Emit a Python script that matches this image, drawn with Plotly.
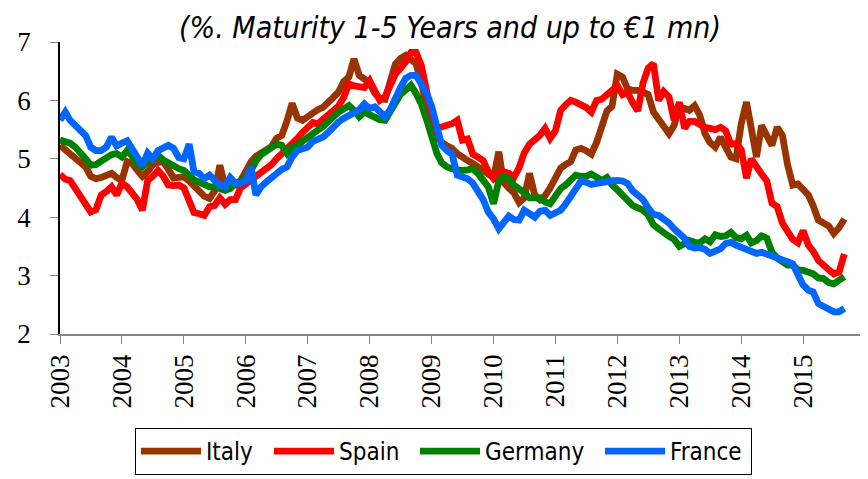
import pandas as pd
import plotly.graph_objects as go

# Monthly data, Jan 2003 .. Sep 2015
months = pd.date_range("2003-01-01", periods=153, freq="MS")

italy = [5.23, 5.15, 5.09, 5.02, 4.95, 4.86, 4.70, 4.66, 4.68, 4.72, 4.75, 4.68,
         4.63, 4.95, 4.92, 4.80, 4.70, 4.78, 4.90, 4.94, 4.95, 4.82, 4.67, 4.68,
         4.69, 4.62, 4.53, 4.46, 4.36, 4.32, 4.45, 4.89, 4.52, 4.55, 4.55, 4.62,
         4.80, 4.95, 5.04, 5.10, 5.14, 5.21, 5.35, 5.40, 5.65, 5.95, 5.70, 5.66,
         5.72, 5.80, 5.84, 5.88, 5.95, 6.05, 6.14, 6.32, 6.40, 6.71, 6.43, 6.37,
         6.30, 6.12, 6.03, 6.02, 6.35, 6.62, 6.72, 6.77, 6.70, 6.63, 6.30, 5.90,
         5.55, 5.38, 5.28, 5.22, 5.18, 5.09, 5.02, 4.97, 4.92, 4.86, 4.80, 4.72,
         4.68, 5.12, 4.60, 4.50, 4.42, 4.25, 4.33, 4.75, 4.38, 4.30, 4.37, 4.50,
         4.65, 4.84, 4.90, 4.95, 5.15, 5.18, 5.14, 5.08, 5.28, 5.55, 5.82, 5.90,
         6.45, 6.40, 6.20, 6.17, 6.17, 6.14, 6.10, 5.80, 5.68, 5.54, 5.43, 5.57,
         5.89, 5.86, 5.83, 5.91, 5.75, 5.43, 5.28, 5.20, 5.37, 5.20, 5.03, 5.00,
         5.60, 5.97, 5.50, 5.03, 5.57, 5.37, 5.23, 5.54, 5.40, 4.90, 4.55, 4.57,
         4.47, 4.38, 4.20, 3.95, 3.90, 3.85, 3.72, 3.82, 3.97]

spain = [4.73, 4.65, 4.63, 4.50, 4.35, 4.20, 4.09, 4.13, 4.38, 4.44, 4.52, 4.38,
         4.58, 4.52, 4.40, 4.30, 4.12, 4.63, 4.70, 4.80, 4.70, 4.55, 4.54, 4.55,
         4.50, 4.30, 4.08, 4.06, 4.03, 4.18, 4.20, 4.33, 4.22, 4.30, 4.30, 4.50,
         4.57, 4.62, 4.68, 4.75, 4.83, 4.90, 5.00, 5.08, 5.18, 5.26, 5.35, 5.45,
         5.52, 5.62, 5.60, 5.68, 5.76, 5.84, 5.90, 6.05, 6.28, 6.25, 6.22, 6.22,
         6.34, 6.14, 6.00, 6.06, 6.25, 6.45, 6.55, 6.66, 6.82, 6.82, 6.60, 6.10,
         5.75, 5.52, 5.54, 5.56, 5.60, 5.66, 5.32, 5.34, 5.08, 5.03, 4.97, 4.78,
         4.66, 4.75, 4.78, 4.75, 4.68, 4.85, 5.10, 5.25, 5.33, 5.40, 5.52, 5.35,
         5.48, 5.83, 5.92, 6.00, 5.97, 5.93, 5.88, 5.80, 6.00, 6.02, 6.10, 6.18,
         6.25, 6.10, 6.14, 5.96, 5.82, 6.30, 6.55, 6.63, 6.00, 6.15, 6.06, 5.66,
         5.97, 5.52, 5.64, 5.64, 5.58, 5.54, 5.52, 5.50, 5.54, 5.48, 5.25, 5.26,
         5.16, 4.67, 5.00, 4.84, 4.74, 4.62, 4.24, 4.18, 3.90, 3.76, 3.62, 3.56,
         3.77, 3.52, 3.42, 3.26, 3.17, 3.10, 3.03, 3.06, 3.37]

germany = [5.32, 5.30, 5.27, 5.20, 5.12, 5.00, 4.89, 4.90, 4.96, 5.03, 5.07, 5.09,
           5.03, 5.14, 5.05, 4.90, 4.86, 4.95, 5.02, 5.06, 4.98, 4.92, 4.88, 4.83,
           4.80, 4.72, 4.64, 4.60, 4.55, 4.52, 4.52, 4.50, 4.46, 4.49, 4.58, 4.62,
           4.68, 4.80, 4.96, 5.07, 5.13, 5.17, 5.25, 5.23, 5.09, 5.20, 5.23, 5.30,
           5.37, 5.46, 5.49, 5.55, 5.64, 5.72, 5.80, 5.85, 5.91, 5.83, 5.72, 5.80,
           5.75, 5.70, 5.67, 5.66, 5.80, 5.97, 6.10, 6.18, 6.26, 6.12, 5.94, 5.68,
           5.37, 5.09, 4.93, 4.86, 4.83, 4.80, 4.80, 4.81, 4.83, 4.75, 4.63, 4.52,
           4.23, 4.62, 4.70, 4.66, 4.55, 4.50, 4.42, 4.33, 4.34, 4.33, 4.26, 4.23,
           4.36, 4.49, 4.55, 4.63, 4.72, 4.70, 4.70, 4.74, 4.67, 4.63, 4.68, 4.55,
           4.47, 4.38, 4.29, 4.20, 4.16, 4.12, 4.04, 3.87, 3.80, 3.72, 3.67, 3.62,
           3.50, 3.55, 3.60, 3.57, 3.56, 3.63, 3.58, 3.70, 3.67, 3.68, 3.74, 3.65,
           3.63, 3.69, 3.56, 3.60, 3.68, 3.64, 3.40, 3.30, 3.24, 3.18, 3.18, 3.10,
           3.09, 3.07, 3.03, 2.96, 2.95, 2.88, 2.86, 2.92, 2.98]

france = [5.66, 5.80, 5.66, 5.57, 5.52, 5.40, 5.20, 5.14, 5.14, 5.20, 5.37, 5.22,
          5.27, 5.31, 5.17, 5.03, 4.89, 5.10, 5.00, 5.14, 5.20, 5.23, 5.18, 5.02,
          5.00, 5.25, 4.78, 4.75, 4.66, 4.72, 4.63, 4.55, 4.52, 4.68, 4.58, 4.58,
          4.62, 4.86, 4.38, 4.52, 4.60, 4.68, 4.76, 4.82, 4.86, 5.03, 5.14, 5.16,
          5.20, 5.30, 5.33, 5.37, 5.45, 5.55, 5.63, 5.69, 5.73, 5.78, 5.84, 5.94,
          5.86, 5.89, 5.80, 5.72, 5.84, 6.05, 6.22, 6.38, 6.43, 6.43, 6.30, 6.13,
          5.90, 5.55, 5.23, 5.14, 5.08, 4.72, 4.69, 4.66, 4.58, 4.45, 4.30, 4.09,
          3.97, 3.80, 3.90, 4.02, 3.96, 3.95, 4.12, 4.06, 4.00, 4.10, 4.12, 4.03,
          4.06, 4.12, 4.22, 4.35, 4.50, 4.62, 4.60, 4.56, 4.58, 4.60, 4.60, 4.62,
          4.63, 4.62, 4.58, 4.45, 4.38, 4.30, 4.16, 4.05, 4.03, 3.98, 3.90, 3.80,
          3.72, 3.64, 3.50, 3.47, 3.48, 3.45, 3.38, 3.43, 3.46, 3.55, 3.57, 3.52,
          3.48, 3.45, 3.43, 3.38, 3.40, 3.36, 3.32, 3.30, 3.27, 3.24, 3.20, 3.02,
          2.84, 2.75, 2.72, 2.52, 2.47, 2.43, 2.38, 2.38, 2.44]

series_names = ["Italy", "Spain", "Germany", "France"]
series_values = [italy, spain, germany, france]
series_colors = ["#993300", "#FF0000", "#008000", "#0066FF"]
legend_widths = [58, 71, 110, 76]

year_ticks = [f"{y}-01-01" for y in range(2003, 2017)]
year_labels = [str(y) for y in range(2003, 2016)] + [""]

title_text = "(%. Maturity 1-5 Years and up to €1 mn)"
narrow = "Liberation Sans Narrow, DejaVu Sans Condensed, Lato, sans-serif"

# page has an 8px body margin, so the figure is sized/offset to compensate
W, H = 860, 471

fig = go.Figure()
for name, vals, col, lw in zip(series_names, series_values, series_colors, legend_widths):
    fig.add_trace(go.Scatter(x=months, y=vals, mode="lines", name=name,
                             legendwidth=lw,
                             line=dict(color=col, width=6.8)))

fig.update_layout(
    width=W, height=H,
    margin=dict(l=52, r=3, t=34, b=145, autoexpand=False),
    paper_bgcolor="white", plot_bgcolor="white",
    title=dict(text=title_text, x=(450 - 8) / W, xref="container", xanchor="center",
               y=1 - 19 / H, yref="container", yanchor="middle",
               font=dict(family=narrow, size=30, color="black", style="italic")),
    showlegend=True,
    legend=dict(orientation="h", x=(135 - 8) / W, xref="container", xanchor="left",
                y=1 - (428 - 8) / H, yref="container", yanchor="top",
                bordercolor="black", borderwidth=1, bgcolor="white",
                font=dict(family=narrow, size=24, color="black"),
                itemwidth=60),
)

fig.update_xaxes(
    type="date", range=["2003-01-01", "2016-01-01"], automargin=False,
    tickmode="array", tickvals=year_ticks, ticktext=year_labels,
    tickangle=-90, ticks="outside", ticklen=8, tickcolor="#868686", tickwidth=1,
    showline=True, linecolor="#868686", linewidth=1.5, showgrid=False, zeroline=False,
    tickfont=dict(family="Liberation Serif", size=27, color="black"),
)
fig.update_yaxes(
    range=[2, 7], dtick=1, tick0=2, automargin=False,
    ticks="outside", ticklen=8, tickcolor="#868686", tickwidth=1,
    showline=True, linecolor="black", linewidth=1.5, showgrid=False, zeroline=False,
    tickfont=dict(family="Liberation Serif", size=27, color="black"),
    ticklabelstandoff=14,
)

fig.write_html("out.html")
